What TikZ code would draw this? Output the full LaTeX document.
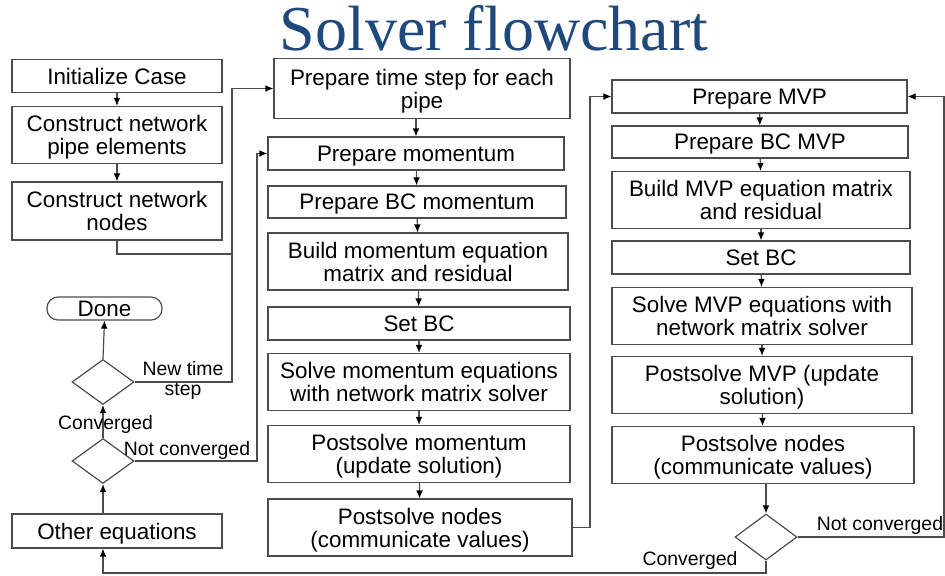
\documentclass[tikz,border=0pt]{standalone}
\usepackage{fontspec}
\setmainfont{Liberation Sans}
\newfontfamily\titlefont{Liberation Serif}
\usetikzlibrary{shapes.geometric,arrows.meta}
\definecolor{titleblue}{RGB}{31,73,125}
\tikzset{
  stepbox/.style={draw=black!70,line width=0.6pt,align=center,inner sep=1pt,
    font=\fontsize{11.2pt}{11.6pt}\selectfont,text depth=0pt},
  onebox/.style={stepbox,minimum height=16.5pt},
  twobox/.style={stepbox,minimum height=28.5pt},
  decision/.style={draw=black!70,line width=0.6pt,diamond,inner sep=0pt,
    minimum width=31pt,minimum height=22.5pt},
  flow/.style={draw=black!70,line width=0.6pt,-{Latex[length=4pt,width=3.4pt,black]}},
  plainline/.style={draw=black!70,line width=0.6pt},
  flowlabel/.style={align=center,inner sep=0pt,
    font=\fontsize{9.7pt}{10pt}\selectfont}
}
\begin{document}
\begin{tikzpicture}[x=0.5pt,y=-0.5pt]
\useasboundingbox (0,0) rectangle (945,575);
\node[anchor=base,text=titleblue,font=\titlefont\fontsize{32pt}{34pt}\selectfont] (title) at (494,50) {Solver flowchart};

% left column
\node[onebox,minimum width=105pt] (init) at (117,76) {Initialize Case};
\node[twobox,minimum width=105pt] (pipes) at (117,135) {Construct network\\pipe elements};
\node[twobox,minimum width=105pt,minimum height=29pt] (nodes) at (117,211) {Construct network\\nodes};
\node[stepbox,rounded corners=5.5pt,minimum width=57.5pt,minimum height=11.5pt,inner sep=0pt] (done) at (104.5,308.5) {Done};
\node[decision] (dia1) at (103,382) {};
\node[decision] (dia2) at (103,461) {};
\node[onebox,minimum width=105pt,minimum height=17pt] (other) at (117,531) {Other equations};

% middle column
\node[twobox,minimum width=148pt,minimum height=30pt] (tstep) at (422,88.5) {Prepare time step for each\\pipe};
\node[onebox,minimum width=148pt] (mom) at (416,153.5) {Prepare momentum};
\node[onebox,minimum width=149pt,minimum height=16pt] (bcmom) at (417,202) {Prepare BC momentum};
\node[twobox,minimum width=150pt] (build) at (418,261.5) {Build momentum equation\\matrix and residual};
\node[onebox,minimum width=151pt] (setbc) at (419,323.5) {Set BC};
\node[twobox,minimum width=151pt] (solve) at (419,382) {Solve momentum equations\\with network matrix solver};
\node[twobox,minimum width=151pt] (postmom) at (419,454) {Postsolve momentum\\(update solution)};
\node[twobox,minimum width=152pt] (postnodes) at (420,527.5) {Postsolve nodes\\(communicate values)};

% right column
\node[onebox,minimum width=147.5pt] (mvp) at (759.5,96.5) {Prepare MVP};
\node[onebox,minimum width=148pt,minimum height=16pt] (bcmvp) at (760,142) {Prepare BC MVP};
\node[twobox,minimum width=149pt] (buildmvp) at (761,200) {Build MVP equation matrix\\and residual};
\node[onebox,minimum width=149pt] (setbcmvp) at (761,257.5) {Set BC};
\node[twobox,minimum width=150pt] (solvemvp) at (762,316) {Solve MVP equations with\\network matrix solver};
\node[twobox,minimum width=150pt] (postmvp) at (762,385) {Postsolve MVP (update\\solution)};
\node[twobox,minimum width=151pt] (postnodesmvp) at (763,455) {Postsolve nodes\\(communicate values)};
\node[decision,minimum height=23pt] (dia3) at (766,537) {};

\coordinate (jn) at (232,254);
\coordinate (jmom) at (257,300);
\coordinate (jmvp) at (590,300);
\coordinate (jback) at (944,300);
\coordinate (jdone) at (103,573);

\draw[flow] (init) -- (pipes);
\draw[flow] (pipes) -- (nodes);
\draw[flow] (nodes.south) |- (jn) |- (tstep.west);
\draw[plainline] (dia1.east) -| (jn);
\draw[flow] (dia1.north) -- (done.south);
\draw[flow] (dia2.north) -- (dia1.south);
\draw[flow] (other.north -| dia2.south) -- (dia2.south);
\draw[flow] (dia2.east) -| (jmom) |- (mom.west);

\draw[flow] (tstep.south -| mom.north) -- (mom.north);
\draw[flow] (mom) -- (bcmom);
\draw[flow] (bcmom) -- (build);
\draw[flow] (build) -- (setbc);
\draw[flow] (setbc) -- (solve);
\draw[flow] (solve) -- (postmom);
\draw[flow] (postmom) -- (postnodes);
\draw[flow] (postnodes.east) -| (jmvp) |- (mvp.west);

\draw[flow] (mvp) -- (bcmvp);
\draw[flow] (bcmvp) -- (buildmvp);
\draw[flow] (buildmvp) -- (setbcmvp);
\draw[flow] (setbcmvp) -- (solvemvp);
\draw[flow] (solvemvp) -- (postmvp);
\draw[flow] (postmvp) -- (postnodesmvp);
\draw[flow] (postnodesmvp.south -| dia3.north) -- (dia3.north);
\draw[flow] (dia3.east) -| (jback) |- (mvp.east);
\draw[flow] (dia3.south) |- (jdone) -- (jdone |- other.south);

\node[flowlabel] (lnew) at (183,380) {New time\\step};
\node[flowlabel] (lconv) at (105.5,424) {Converged};
\node[flowlabel] (lnot) at (187,450) {Not converged};
\node[flowlabel] (lconvmvp) at (690,560) {Converged};
\node[flowlabel] (lnotmvp) at (880,525) {Not converged};
\end{tikzpicture}
\end{document}
